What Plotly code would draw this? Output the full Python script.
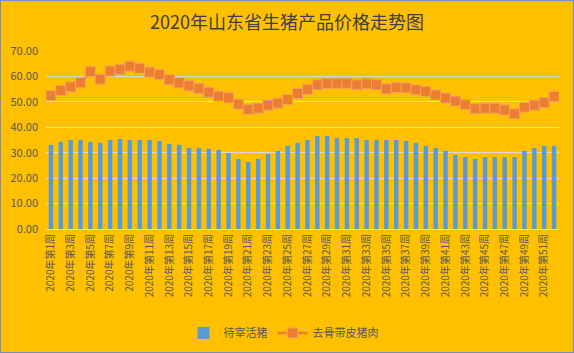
import plotly.graph_objects as go

weeks = [f"2020年第{i}周" for i in range(1, 53)]

live_pig = [33.1, 34.3, 35.0, 35.0, 34.3, 33.9, 35.0, 35.4, 35.0, 35.0,
            35.0, 34.6, 33.5, 33.1, 31.9, 31.9, 31.5, 31.1, 29.9, 27.6,
            26.4, 27.6, 29.5, 30.7, 32.7, 33.9, 35.0, 36.6, 36.6, 35.8,
            35.8, 35.8, 35.0, 35.0, 35.0, 35.0, 34.6, 33.9, 32.7, 31.9,
            30.7, 29.1, 28.3, 27.6, 28.3, 28.3, 28.3, 28.3, 30.7, 31.9,
            32.7, 32.7]

pork = [52.5, 54.5, 55.9, 57.5, 61.9, 58.9, 62.1, 62.8, 64.0, 63.2,
        61.7, 60.7, 58.7, 57.5, 56.3, 55.2, 53.8, 52.2, 51.6, 49.1,
        47.1, 47.5, 48.7, 49.5, 50.9, 53.3, 54.9, 56.7, 57.2, 57.3,
        57.3, 56.7, 57.1, 56.7, 55.1, 55.7, 55.5, 54.7, 54.1, 52.7,
        51.5, 50.3, 48.9, 47.3, 47.5, 47.5, 46.8, 45.3, 47.9, 48.7,
        49.7, 52.1]

tick_labels = weeks[::2]

fig = go.Figure()
fig.add_trace(go.Bar(
    x=weeks, y=live_pig, name="待宰活猪",
    marker=dict(color="#5B9BD5", line=dict(width=0)),
))
fig.add_trace(go.Scatter(
    x=weeks, y=pork, name="去骨带皮猪肉", mode="lines+markers",
    line=dict(color="#ED7D31", width=2.5),
    marker=dict(symbol="square", size=10, color="#ED7D31",
                line=dict(color="#F4A163", width=1)),
))

fig.update_layout(
    width=574, height=353,
    paper_bgcolor="#FFC000", plot_bgcolor="#FFC000",
    margin=dict(l=46, r=15, t=51, b=124, autoexpand=False),
    bargap=0.55,
    font=dict(family="Noto Sans CJK SC, sans-serif", color="#595959", size=10),
    title=dict(text="2020年山东省生猪产品价格走势图", x=0.5, xanchor="center",
               y=0.937, yanchor="middle",
               font=dict(size=18, color="#404040")),
    showlegend=True,
    legend=dict(orientation="h", x=0.463, xanchor="center", yref="container",
                y=0.057, yanchor="middle",
                font=dict(size=11, color="#595959"), bgcolor="rgba(0,0,0,0)",
                itemwidth=30),
    xaxis=dict(
        type="category", tickmode="array", tickvals=tick_labels, ticktext=tick_labels,
        range=[-0.5, len(weeks) - 0.5],
        tickangle=-90, showgrid=False, showline=True, linecolor="#D9D9D9",
        linewidth=1, ticks="", automargin=False,
        tickfont=dict(size=10, color="#595959"),
    ),
    yaxis=dict(
        range=[0, 70], dtick=10, tickformat=".2f", showgrid=True,
        gridcolor="#D9D9D9", gridwidth=1, zeroline=False, showline=False,
        ticks="", automargin=False, ticklabelstandoff=7,
        tickfont=dict(size=11, color="#595959"),
    ),
    shapes=[dict(type="rect", xref="paper", yref="paper",
                 x0=-46/513, x1=1+15/513, y0=-124/178, y1=1+51/178,
                 line=dict(color="#6E8FC4", width=2), fillcolor="rgba(0,0,0,0)",
                 layer="below")],
)

fig.write_html("out.html")
